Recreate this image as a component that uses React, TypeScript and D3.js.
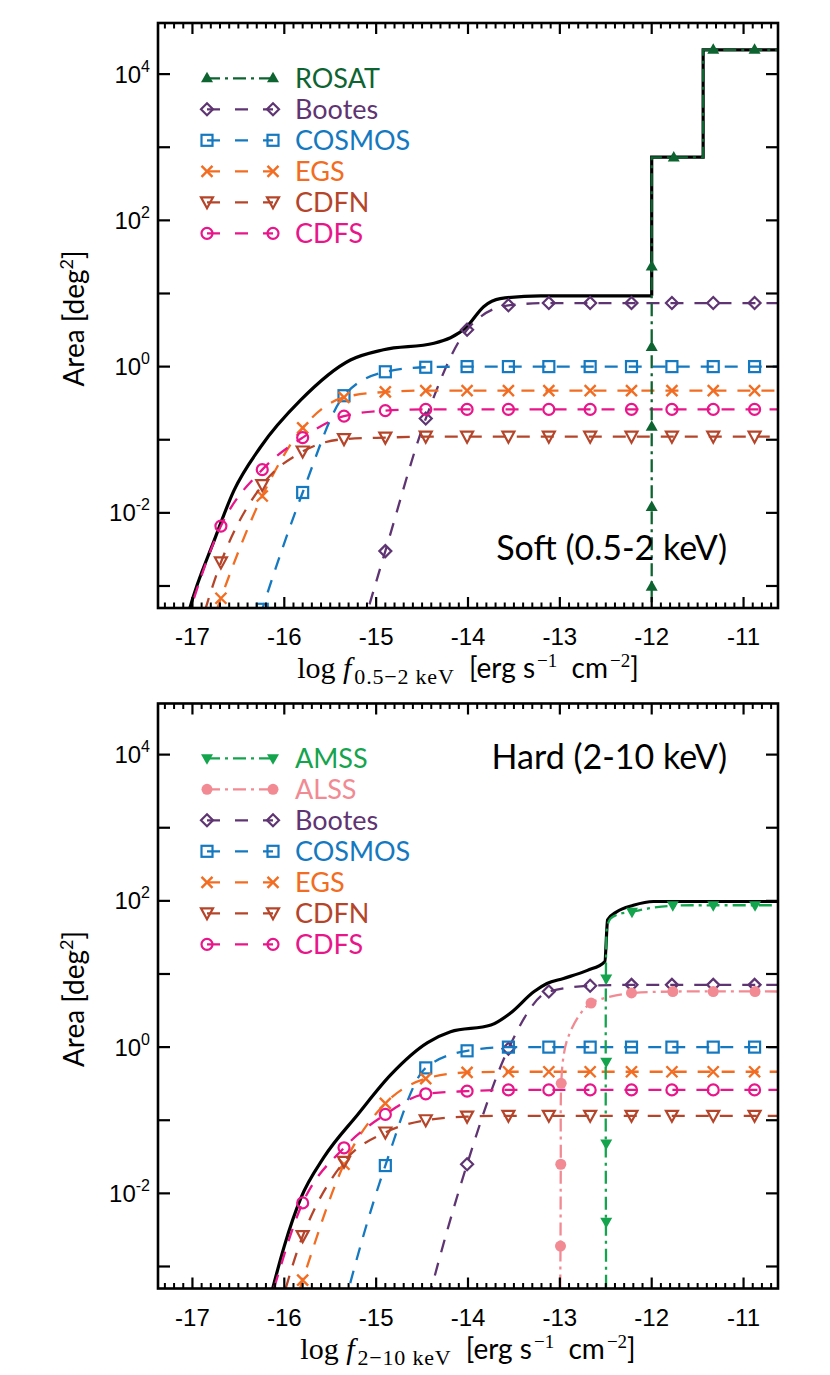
import React from "react";
import * as d3 from "d3";

// log flux points where the survey curves are sampled (and marked)
const fluxGrid = [
  -17.14, -16.69, -16.24, -15.8, -15.35, -14.9, -14.46, -14.01, -13.56, -13.12, -12.67, -12.22,
  -11.78, -11.33, -10.88, -10.43,
];

// soft band (0.5-2 keV) sky coverage in deg^2, one value per fluxGrid point
const bootesSoft = [1e-11, 1e-10, 1e-8, 3e-7, 3.5e-5, 3.0e-3, 0.195, 3.2, 6.9, 7.4, 7.4, 7.4, 7.4, 7.4, 7.4, 7.4];
const cosmosSoft = [3e-8, 6e-6, 4.8e-4, 0.019, 0.4, 0.85, 0.98, 1, 1, 1, 1, 1, 1, 1, 1, 1];
const egsSoft = [1.3e-5, 6.8e-4, 0.017, 0.145, 0.38, 0.45, 0.47, 0.47, 0.47, 0.47, 0.47, 0.47, 0.47, 0.47, 0.47, 0.47];
const cdfnSoft = [2.5e-5, 2.1e-3, 0.024, 0.069, 0.102, 0.107, 0.11, 0.11, 0.11, 0.11, 0.11, 0.11, 0.11, 0.11, 0.11, 0.11];
const cdfsSoft = [1.6e-4, 6.6e-3, 0.039, 0.107, 0.21, 0.25, 0.26, 0.26, 0.26, 0.26, 0.26, 0.26, 0.26, 0.26, 0.26, 0.26];

const rosatFlux = [-12.0, -12.0, -11.44, -11.44, -10.5];
const rosatArea = [1e-5, 725, 725, 2.15e4, 2.15e4];
const rosatMarkFlux = [-12.0, -12.0, -12.0, -12.0, -12.0, -11.76, -11.33, -10.88];
const rosatMarkArea = [9.8e-4, 0.012, 0.151, 1.86, 23.4, 725, 2.15e4, 2.15e4];

const totalSoftFlux = [-17.2, -17.03, -16.76, -16.55, -16.26, -15.82, -15.28, -14.92, -14.37, -14.01, -13.83, -13.65, -13.21, -12.0];
const totalSoftArea = [6.3e-5, 4.9e-4, 4.3e-3, 0.02, 0.079, 0.35, 1.23, 1.7, 2.09, 3.55, 6.6, 8.5, 9.3, 9.3];
const totalSoftStepFlux = [-12.0, -12.0, -11.44, -11.44, -10.5];
const totalSoftStepArea = [9.3, 734, 734, 2.15e4, 2.15e4];

// hard band (2-10 keV)
const bootesHard = [1e-14, 1e-13, 1e-12, 1e-10, 1e-8, 1e-6, 2.5e-4, 0.025, 0.95, 5.75, 6.9, 7.1, 7.1, 7.1, 7.1, 7.1];
const cosmosHard = [1e-10, 1e-9, 1e-8, 1e-6, 2.8e-4, 0.024, 0.52, 0.89, 1, 1, 1, 1, 1, 1, 1, 1];
const egsHard = [1e-9, 1e-7, 1e-5, 6.5e-4, 0.025, 0.17, 0.37, 0.45, 0.46, 0.46, 0.46, 0.46, 0.46, 0.46, 0.46, 0.46];
const cdfnHard = [1e-8, 1e-6, 4e-5, 2.6e-3, 0.027, 0.068, 0.1, 0.112, 0.115, 0.115, 0.115, 0.115, 0.115, 0.115, 0.115, 0.115];
const cdfsHard = [1e-7, 5e-6, 1.6e-4, 7.4e-3, 0.042, 0.12, 0.23, 0.25, 0.26, 0.26, 0.26, 0.26, 0.26, 0.26, 0.26, 0.26];

const alssFlux = [-13.0, -12.993, -12.99, -12.985, -12.96, -12.92, -12.8, -12.66, -12.45, -12.2, -11.77, -10.5];
const alssArea = [1e-4, 1.9e-3, 0.025, 0.32, 0.75, 1.26, 2.6, 4.0, 4.9, 5.5, 5.75, 5.75];
const alssMarkFlux = [-12.993, -12.99, -12.985, -12.66, -12.22, -11.77, -11.33, -10.875];
const alssMarkArea = [1.9e-3, 0.025, 0.32, 4.0, 5.5, 5.75, 5.75, 5.75];

const amssFlux = [-12.495, -12.495, -12.485, -12.45, -12.36, -12.215, -12.0, -11.77, -11.33, -10.5];
const amssArea = [1e-4, 25, 44, 57, 66, 71, 80, 86, 87, 87];
const amssMarkFlux = [-12.495, -12.495, -12.495, -12.495, -12.215, -11.77, -11.33, -10.875];
const amssMarkArea = [4.1e-3, 0.048, 0.63, 8.7, 71, 87, 87, 87];

const totalHardFlux = [-16.3, -16.13, -16.0, -15.82, -15.57, -15.2, -14.84, -14.44, -14.19, -13.75, -13.54, -13.28, -13.14, -12.96, -12.7, -12.51, -12.48, -12.38, -12.2, -11.98, -10.5];
const totalHardArea = [6.3e-5, 4.8e-4, 1.9e-3, 8.6e-3, 0.031, 0.12, 0.42, 1.15, 1.62, 2.0, 2.9, 5.75, 7.4, 8.7, 11.2, 14.8, 55, 71, 87, 98, 98];

const C = {
  rosat: "#0d6430",
  amss: "#14a44d",
  alss: "#f28a93",
  bootes: "#5f3472",
  cosmos: "#1479c0",
  egs: "#f26d21",
  cdfn: "#b5452a",
  cdfs: "#e8168a",
};

const DASH = "13,11";
const DASHDOT = "13,5,3,5";
const LEGEND_DASH = "13,15";
const SANS = "Lato, 'Open Sans', sans-serif";
const TICKFONT = "'Liberation Sans', Arial, sans-serif";
const SERIF = "'Liberation Serif', 'DejaVu Serif', serif";

const X0 = 158;
const X1 = 778;

const zip = (a, b) => a.map((v, i) => [v, b[i]]);

function Marker({ kind, x, y, color }) {
  const sw = 2.2;
  if (kind === "triUp")
    return <path d={`M${x},${y - 6.5}L${x + 6},${y + 4}L${x - 6},${y + 4}Z`} fill={color} />;
  if (kind === "triDownFill")
    return <path d={`M${x - 6},${y - 4}L${x + 6},${y - 4}L${x},${y + 6.5}Z`} fill={color} />;
  if (kind === "dot") return <circle cx={x} cy={y} r={5.5} fill={color} />;
  if (kind === "diamond")
    return (
      <path d={`M${x},${y - 6}L${x + 6},${y}L${x},${y + 6}L${x - 6},${y}Z`} fill="none" stroke={color} strokeWidth={sw} />
    );
  if (kind === "square")
    return <rect x={x - 5.5} y={y - 5.5} width={11} height={11} fill="none" stroke={color} strokeWidth={sw} />;
  if (kind === "cross")
    return (
      <path
        d={`M${x - 5.5},${y - 5.5}L${x + 5.5},${y + 5.5}M${x - 5.5},${y + 5.5}L${x + 5.5},${y - 5.5}`}
        stroke={color}
        strokeWidth={2.4}
      />
    );
  if (kind === "triDown")
    return <path d={`M${x - 6},${y - 5}L${x + 6},${y - 5}L${x},${y + 6}Z`} fill="none" stroke={color} strokeWidth={sw} />;
  return <circle cx={x} cy={y} r={5.5} fill="none" stroke={color} strokeWidth={sw} />;
}

const softSeries = [
  { name: "ROSAT", color: C.rosat, dash: DASHDOT, mark: "triUp", pts: zip(rosatFlux, rosatArea), marks: zip(rosatMarkFlux, rosatMarkArea), curve: d3.curveLinear, top: true },
  { name: "Bootes", color: C.bootes, dash: DASH, mark: "diamond", pts: zip(fluxGrid, bootesSoft) },
  { name: "COSMOS", color: C.cosmos, dash: DASH, mark: "square", pts: zip(fluxGrid, cosmosSoft) },
  { name: "EGS", color: C.egs, dash: DASH, mark: "cross", pts: zip(fluxGrid, egsSoft) },
  { name: "CDFN", color: C.cdfn, dash: DASH, mark: "triDown", pts: zip(fluxGrid, cdfnSoft) },
  { name: "CDFS", color: C.cdfs, dash: DASH, mark: "circle", pts: zip(fluxGrid, cdfsSoft) },
];

const hardSeries = [
  { name: "AMSS", color: C.amss, dash: DASHDOT, mark: "triDownFill", pts: zip(amssFlux, amssArea), marks: zip(amssMarkFlux, amssMarkArea), curve: d3.curveCatmullRom.alpha(0.5), top: true },
  { name: "ALSS", color: C.alss, dash: DASHDOT, mark: "dot", pts: zip(alssFlux, alssArea), marks: zip(alssMarkFlux, alssMarkArea), curve: d3.curveCatmullRom.alpha(0.5), top: true },
  { name: "Bootes", color: C.bootes, dash: DASH, mark: "diamond", pts: zip(fluxGrid, bootesHard) },
  { name: "COSMOS", color: C.cosmos, dash: DASH, mark: "square", pts: zip(fluxGrid, cosmosHard) },
  { name: "EGS", color: C.egs, dash: DASH, mark: "cross", pts: zip(fluxGrid, egsHard) },
  { name: "CDFN", color: C.cdfn, dash: DASH, mark: "triDown", pts: zip(fluxGrid, cdfnHard) },
  { name: "CDFS", color: C.cdfs, dash: DASH, mark: "circle", pts: zip(fluxGrid, cdfsHard) },
];

function Panel({ id, top, bottom, series, totalSmooth, totalStep, label, labelY, legendY, band }) {
  const x = d3.scaleLinear().domain([-17.375, -10.625]).range([X0, X1]);
  const y = d3.scaleLog().domain([5e-4, 5e4]).range([bottom, top]);
  const mkLine = (curve) =>
    d3
      .line()
      .x((d) => x(d[0]))
      .y((d) => y(d[1]))
      .curve(curve);

  const majorX = x.ticks(7);
  const minorX = x.ticks(70).filter((t) => Math.abs(t - Math.round(t)) > 1e-6);
  const decades = y.ticks().filter((t) => Math.abs(Math.log10(t) - Math.round(Math.log10(t))) < 1e-6);

  const ordered = [...series.filter((s) => !s.top), ...series.filter((s) => s.top)];
  const mid = (top + bottom) / 2;

  return (
    <g>
      <defs>
        <clipPath id={id}>
          <rect x={X0} y={top} width={X1 - X0} height={bottom - top} />
        </clipPath>
      </defs>
      <g clipPath={`url(#${id})`}>
        <path d={mkLine(d3.curveMonotoneX)(totalSmooth)} fill="none" stroke="#000" strokeWidth={3.2} />
        {totalStep && <path d={mkLine(d3.curveLinear)(totalStep)} fill="none" stroke="#000" strokeWidth={3.2} />}
        {ordered.map((s) => (
          <g key={s.name}>
            <path
              d={mkLine(s.curve || d3.curveMonotoneX)(s.pts)}
              fill="none"
              stroke={s.color}
              strokeWidth={2.3}
              strokeDasharray={s.dash}
            />
            {(s.marks || s.pts).map((p, i) => (
              <Marker key={i} kind={s.mark} x={x(p[0])} y={y(p[1])} color={s.color} />
            ))}
          </g>
        ))}
      </g>

      {/* frame and ticks */}
      <rect x={X0} y={top} width={X1 - X0} height={bottom - top} fill="none" stroke="#000" strokeWidth={2.6} />
      {majorX.map((t) => (
        <g key={"mx" + t}>
          <line x1={x(t)} x2={x(t)} y1={bottom} y2={bottom - 11} stroke="#000" strokeWidth={2.2} />
          <line x1={x(t)} x2={x(t)} y1={top} y2={top + 11} stroke="#000" strokeWidth={2.2} />
          <text x={x(t)} y={bottom + 37} textAnchor="middle" fontFamily={TICKFONT} fontSize={24}>
            {t}
          </text>
        </g>
      ))}
      {minorX.map((t) => (
        <g key={"nx" + t}>
          <line x1={x(t)} x2={x(t)} y1={bottom} y2={bottom - 5.5} stroke="#000" strokeWidth={2} />
          <line x1={x(t)} x2={x(t)} y1={top} y2={top + 5.5} stroke="#000" strokeWidth={2} />
        </g>
      ))}
      {decades.map((t) => {
        const e = Math.round(Math.log10(t));
        return (
          <g key={"y" + e}>
            <line x1={X0} x2={X0 + 12} y1={y(t)} y2={y(t)} stroke="#000" strokeWidth={2.2} />
            <line x1={X1} x2={X1 - 12} y1={y(t)} y2={y(t)} stroke="#000" strokeWidth={2.2} />
            {e % 2 === 0 && (
              <text x={X0 - 8} y={y(t) + 8.5} textAnchor="end" fontFamily={TICKFONT} fontSize={24}>
                10
                <tspan dy={-11} fontSize={16}>
                  {e}
                </tspan>
              </text>
            )}
          </g>
        );
      })}

      {/* axis titles */}
      <text transform={`translate(84, ${mid + 3}) rotate(-90)`} textAnchor="middle" fontFamily={SANS} fontSize={28}>
        Area [deg
        <tspan dy={-11} fontSize={18}>
          2
        </tspan>
        <tspan dy={11}>]</tspan>
      </text>
      <text x={468} y={bottom + 70} textAnchor="middle">
        <tspan fontFamily={SERIF} fontSize={30}>
          {"log\u00a0"}
        </tspan>
        <tspan fontFamily={SERIF} fontSize={30} fontStyle="italic">
          f
        </tspan>
        <tspan fontFamily={SERIF} fontSize={22} dy={6} dx={3} letterSpacing={0.8}>
          {band}
        </tspan>
        <tspan fontFamily={SANS} fontSize={28} dy={-6}>
          {"\u00a0\u00a0[erg s"}
        </tspan>
        <tspan fontFamily={SERIF} fontSize={19} dy={-11} dx={2}>
          −1
        </tspan>
        <tspan fontFamily={SANS} fontSize={28} dy={11}>
          {"\u00a0\u00a0cm"}
        </tspan>
        <tspan fontFamily={SERIF} fontSize={19} dy={-11} dx={2}>
          −2
        </tspan>
        <tspan fontFamily={SANS} fontSize={28} dy={11}>
          ]
        </tspan>
      </text>

      <text x={727} y={labelY} textAnchor="end" fontFamily={SANS} fontSize={34}>
        {label}
      </text>

      {/* legend */}
      {series.map((s, i) => {
        const ly = legendY + i * 31;
        return (
          <g key={"lg" + s.name}>
            <line
              x1={207}
              x2={273}
              y1={ly}
              y2={ly}
              stroke={s.color}
              strokeWidth={2.3}
              strokeDasharray={s.dash === DASH ? LEGEND_DASH : s.dash}
            />
            <Marker kind={s.mark} x={207} y={ly} color={s.color} />
            <Marker kind={s.mark} x={273} y={ly} color={s.color} />
            <text x={295} y={ly + 9.5} fill={s.color} fontFamily={SANS} fontSize={27}>
              {s.name}
            </text>
          </g>
        );
      })}
    </g>
  );
}

export default function App() {
  return (
    <svg
      width={830}
      height={1375}
      style={{ position: "absolute", left: 0, top: 0, background: "#fff", display: "block" }}
    >
      <rect width={830} height={1375} fill="#fff" />
      <Panel
        id="clipSoft"
        top={23}
        bottom={608}
        series={softSeries}
        totalSmooth={zip(totalSoftFlux, totalSoftArea)}
        totalStep={zip(totalSoftStepFlux, totalSoftStepArea)}
        label="Soft (0.5-2 keV)"
        labelY={560}
        legendY={78.3}
        band={"0.5−2\u00a0keV"}
      />
      <Panel
        id="clipHard"
        top={703.5}
        bottom={1288.5}
        series={hardSeries}
        totalSmooth={zip(totalHardFlux, totalHardArea)}
        totalStep={null}
        label="Hard (2-10 keV)"
        labelY={769}
        legendY={758.3}
        band={"2−10\u00a0keV"}
      />
    </svg>
  );
}
